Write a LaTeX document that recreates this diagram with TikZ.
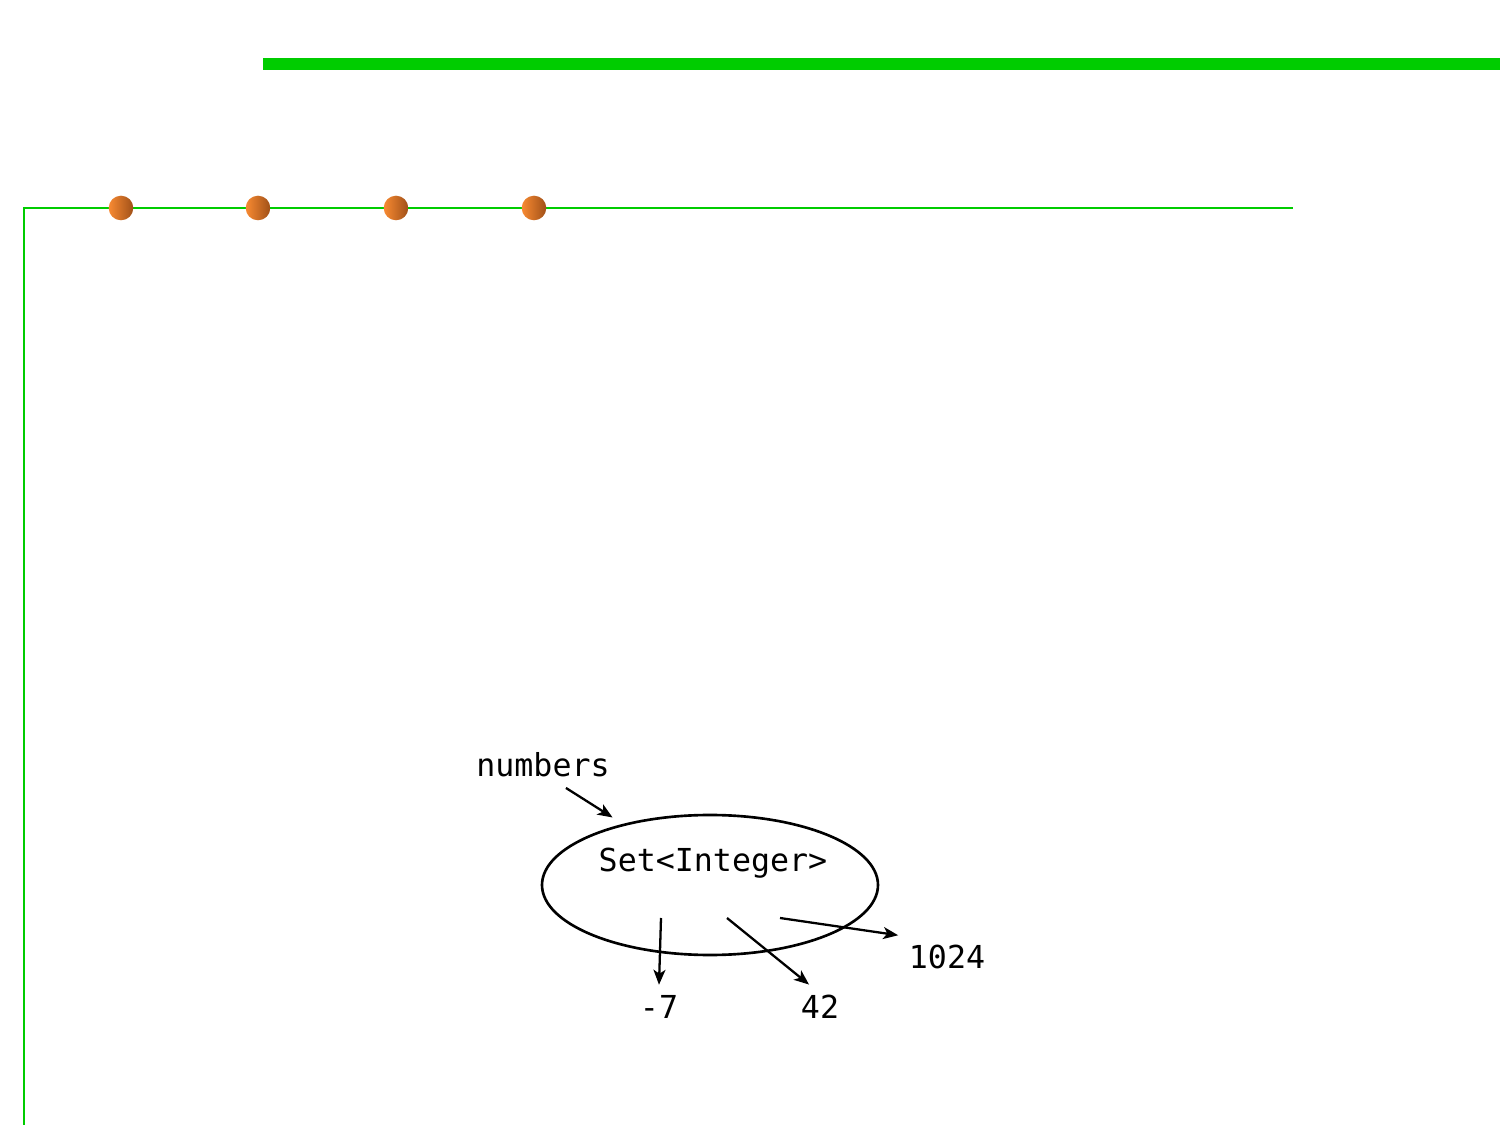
\documentclass[tikz,border=0pt]{standalone}
\usepackage{fontspec}
\setmonofont{DejaVu Sans Mono}
\usepackage{tikz}
\usetikzlibrary{arrows.meta, positioning, shapes.geometric}
\usepackage{xcolor}
\definecolor{slidegreen}{RGB}{0,204,0}
\definecolor{dotlight}{RGB}{248,138,50}
\definecolor{dotdark}{RGB}{160,80,24}
\tikzset{%
	every value/.style={
		font=\ttfamily\fontsize{9}{11}\selectfont,
		inner sep=0.1cm
	},
	set shape/.style={
		ellipse,
		draw,
		line width=0.75pt,
		minimum width=3.36cm,
		minimum height=1.4cm
	},
	ref/.style={
		line width=0.65pt,
		-{Stealth[length=1.5mm, width=1.2mm, inset=0.4mm]}
	},
}

\begin{document}
\begin{tikzpicture}[
				every node/.style={every value}
				]
				\useasboundingbox (0,0) rectangle (15,11.25);
				
				% Slide frame
				\fill[slidegreen] (2.63,10.55) rectangle (15,10.67);
				\draw[slidegreen, line width=0.6pt] (0.24,0) -- (0.24,9.17) -- (12.93,9.17);
				\foreach \x in {1.21,2.58,3.96,5.34}
				\shade[left color=dotlight, right color=dotdark] (\x,9.17) circle (0.123);
				
				% Set object
				\node (numbers) at (5.43,3.60) {numbers};
				\node[set shape] (set) at (7.10,2.40) {};
				\node (settype) at (7.13,2.62) {Set<Integer>};
				\coordinate (p7) at (6.61,2.07);
				\coordinate (p42) at (7.27,2.07);
				\coordinate (p1024) at (7.80,2.07);
				
				% Elements
				\node (m7) at (6.59,1.18) {-7};
				\node (v42) at (8.20,1.18) {42};
				\node (v1024) at (9.47,1.68) {1024};
				
				\draw[ref, shorten >=0.12cm] (numbers.-45) -- (set.145);
				\draw[ref] (p7) -- (m7.north);
				\draw[ref] (p42) -- (v42.116);
				\draw[ref] (p1024) -- (v1024.156);
				
			\end{tikzpicture}
\end{document}
